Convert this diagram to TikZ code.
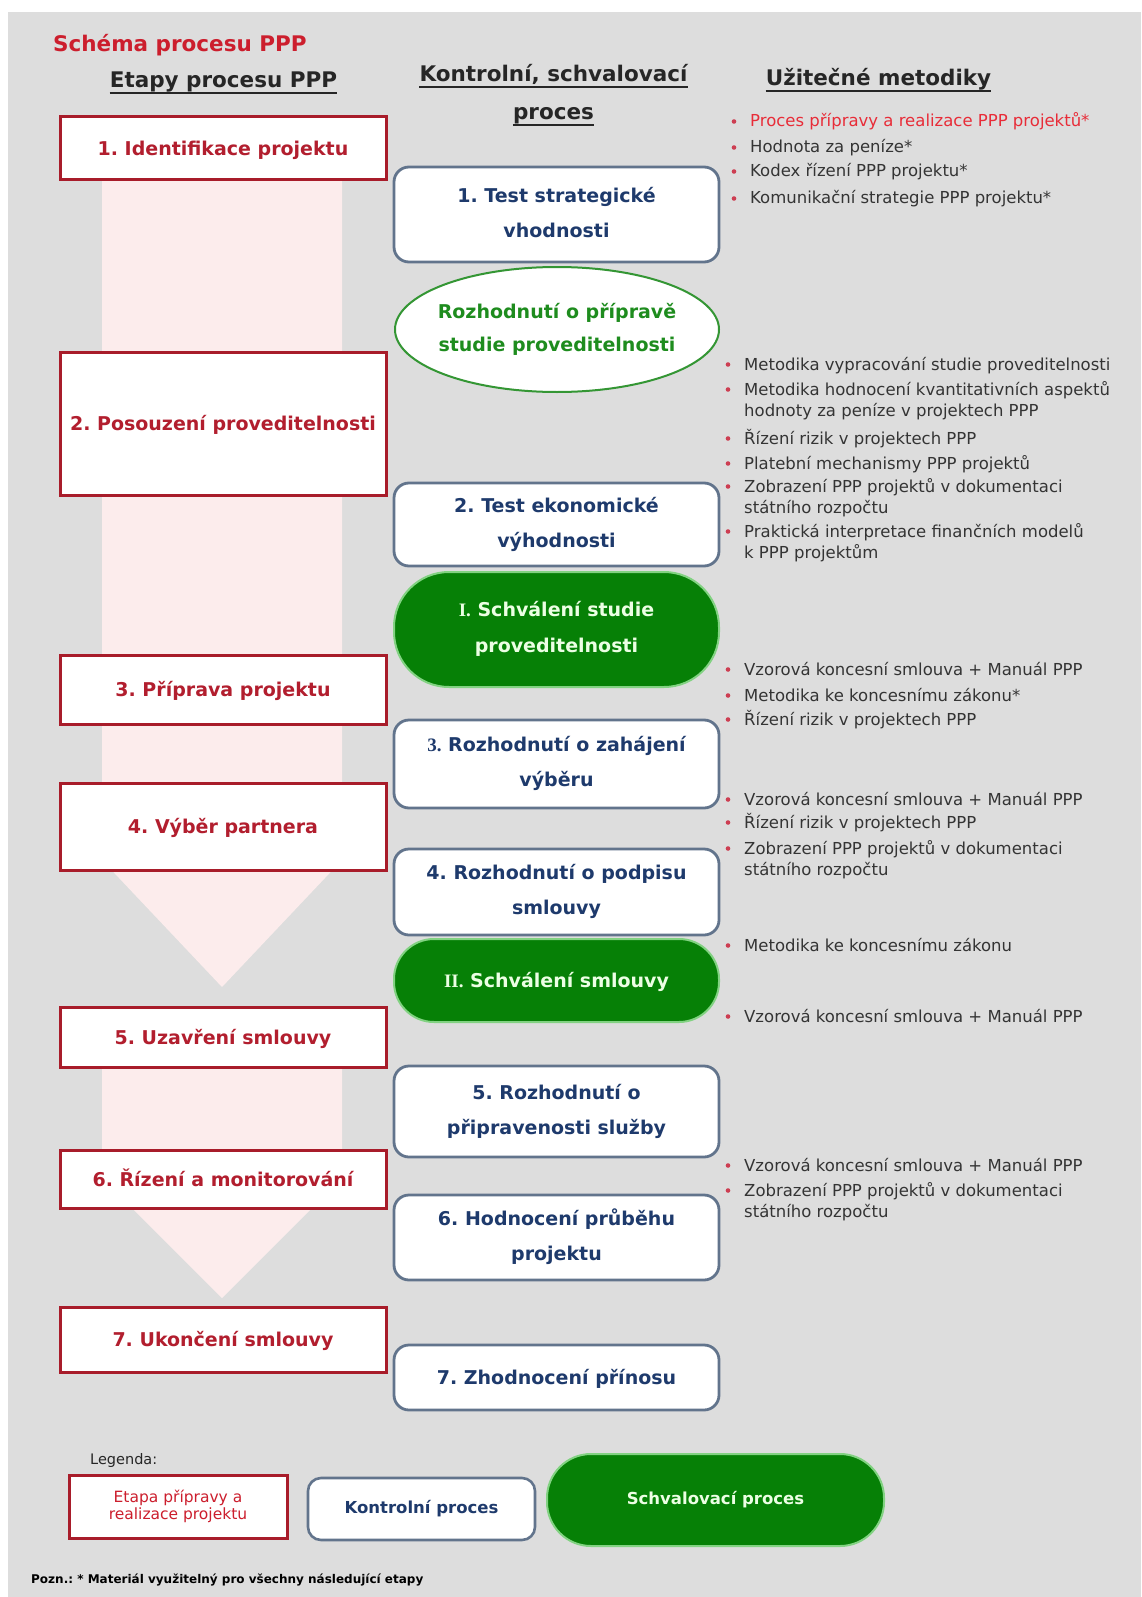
\documentclass[tikz,border=0pt]{standalone}
\usepackage{fontspec}
\setmainfont{DejaVu Sans}
\newfontfamily\romanfont{Liberation Serif}
\usetikzlibrary{shapes.geometric}
\frenchspacing

\definecolor{pageGray}{RGB}{221,221,221}
\definecolor{flowPink}{RGB}{252,236,236}
\definecolor{stageEdge}{RGB}{168,28,42}
\definecolor{stageText}{RGB}{178,30,46}
\definecolor{titleRed}{RGB}{204,30,45}
\definecolor{hdrText}{RGB}{38,38,38}
\definecolor{ctrlEdge}{RGB}{98,116,140}
\definecolor{ctrlText}{RGB}{30,58,108}
\definecolor{apprFill}{RGB}{6,128,6}
\definecolor{apprEdge}{RGB}{130,210,130}
\definecolor{apprText}{RGB}{236,255,228}
\definecolor{decEdge}{RGB}{52,150,52}
\definecolor{decText}{RGB}{30,140,30}
\definecolor{listText}{RGB}{52,52,52}
\definecolor{listRed}{RGB}{232,44,56}
\definecolor{bulletRed}{RGB}{205,62,82}

% fixed line height/depth so every box text sits on its centre
\newcommand\boxstrut{\rule[-5pt]{0pt}{24pt}}
% two-line bullet text, baseline on the first line
\newcommand\twoline[2]{\begin{tabular}[t]{@{}l@{}}#1\\#2\end{tabular}}
% bullet dot plus item text
\newcommand\bitem[4]{%
  \node[dot] (#1d) at (#2-16,#3-5.5) {};
  \node[item] (#1) at (#2,#3) {#4};}

\begin{document}
\begin{tikzpicture}[x=1pt,y=-1pt,
  stagebox/.style={draw=stageEdge, line width=3pt, fill=white, inner sep=0pt,
    minimum width=326pt, text=stageText, font=\fontsize{19}{23}\selectfont\bfseries,
    execute at begin node=\boxstrut, execute at end node=\boxstrut},
  ctrlbox/.style={draw=ctrlEdge, line width=2.8pt, rounded corners=15pt, fill=white,
    inner sep=0pt, minimum width=325pt, text=ctrlText, align=center,
    font=\fontsize{19}{35}\selectfont\bfseries,
    execute at begin node=\boxstrut, execute at end node=\boxstrut},
  apprpill/.style={draw=apprEdge, line width=2pt, fill=apprFill, inner sep=0pt,
    minimum width=325pt, text=apprText, align=center,
    font=\fontsize{19}{36}\selectfont\bfseries,
    execute at begin node=\boxstrut, execute at end node=\boxstrut},
  decoval/.style={ellipse, draw=decEdge, line width=2pt, fill=white, inner sep=0pt,
    minimum width=324pt, minimum height=125pt, text=decText, align=center,
    font=\fontsize{19}{33}\selectfont\bfseries,
    execute at begin node=\boxstrut, execute at end node=\boxstrut},
  hdr/.style={inner sep=0pt, text=hdrText, font=\fontsize{21.5}{26}\selectfont\bfseries},
  uline/.style={draw=hdrText, line width=2pt},
  item/.style={anchor=base west, inner sep=0pt, text=listText,
    font=\fontsize{16.5}{21}\selectfont},
  dot/.style={circle, fill=bulletRed, inner sep=0pt, minimum size=4.6pt},
]
\useasboundingbox (0,0) rectangle (1141,1597);
\fill[white] (0,0) rectangle (1141,1597);
\fill[pageGray] (8,12) rectangle (1141,1597);

% flow arrows behind the stages
\fill[flowPink] (102,150) -- (342,150) -- (342,860) -- (222,987) -- (102,860) -- cycle;
\fill[flowPink] (102,1040) -- (342,1040) -- (342,1178) -- (222,1298) -- (102,1178) -- cycle;

% headings
\node[hdr, text=titleRed, anchor=base west] (title) at (53,52) {Schéma procesu PPP};
\node[hdr, anchor=base] (hstages) at (223.5,88) {Etapy procesu PPP};
\node[hdr, anchor=base] (hctrlA) at (553.5,82) {Kontrolní, schvalovací};
\node[hdr, anchor=base] (hctrlB) at (553.5,120) {proces};
\node[hdr, anchor=base] (hmeth) at (878.5,86) {Užitečné metodiky};
\foreach \h in {hstages,hctrlA,hctrlB,hmeth}
  \draw[uline] ([yshift=-5.5pt]\h.base west) -- ([yshift=-5.5pt]\h.base east);

% project stages
\node[stagebox, minimum height=63pt] (s1) at (223,148.5) {1. Identifikace projektu};
\node[stagebox, minimum height=143pt] (s2) at (223,423.5) {2. Posouzení proveditelnosti};
\node[stagebox, minimum height=69pt] (s3) at (223,689.5) {3. Příprava projektu};
\node[stagebox, minimum height=87pt] (s4) at (223,826.5) {4. Výběr partnera};
\node[stagebox, minimum height=60pt] (s5) at (223,1037) {5. Uzavření smlouvy};
\node[stagebox, minimum height=58pt] (s6) at (223,1179) {6. Řízení a monitorování};
\node[stagebox, minimum height=65pt] (s7) at (223,1339.5) {7. Ukončení smlouvy};

% control and approval steps
\node[ctrlbox, minimum height=95pt] (c1) at (556.5,214.5) {1. Test strategické\\vhodnosti};
\node[decoval] (dec) at (557,329.5)
  {\makebox[0pt]{Rozhodnutí o přípravě}\\\makebox[0pt]{studie proveditelnosti}};
\node[ctrlbox, minimum height=83pt] (c2) at (556.5,524.5) {2. Test ekonomické\\výhodnosti};
\node[apprpill, minimum height=115pt, rounded corners=55pt] (ok1) at (556.5,629.5)
  {{\romanfont I.} Schválení studie\\proveditelnosti};
\node[ctrlbox, minimum height=88pt] (c3) at (556.5,764)
  {{\romanfont 3.} Rozhodnutí o zahájení\\výběru};
\node[ctrlbox, minimum height=86pt] (c4) at (556.5,892) {4. Rozhodnutí o podpisu\\smlouvy};
\node[apprpill, minimum height=83pt, rounded corners=40pt] (ok2) at (556.5,980.5)
  {{\romanfont II.} Schválení smlouvy};
\node[ctrlbox, minimum height=91pt] (c5) at (556.5,1111.5) {5. Rozhodnutí o\\připravenosti služby};
\node[ctrlbox, minimum height=85pt] (c6) at (556.5,1237.5) {6. Hodnocení průběhu\\projektu};
\node[ctrlbox, minimum height=65pt] (c7) at (556.5,1377.5) {7. Zhodnocení přínosu};

% useful methodologies
\bitem{ma1}{750}{127}{\textcolor{listRed}{Proces přípravy a realizace PPP projektů*}}
\bitem{ma2}{750}{153}{Hodnota za peníze*}
\bitem{ma3}{750}{177}{Kodex řízení PPP projektu*}
\bitem{ma4}{750}{204}{Komunikační strategie PPP projektu*}

\bitem{mb1}{744}{370}{Metodika vypracování studie proveditelnosti}
\bitem{mb2}{744}{395}{\twoline{Metodika hodnocení kvantitativních aspektů}{hodnoty za peníze v projektech PPP}}
\bitem{mb3}{744}{444}{Řízení rizik v projektech PPP}
\bitem{mb4}{744}{469}{Platební mechanismy PPP projektů}
\bitem{mb5}{744}{492}{\twoline{Zobrazení PPP projektů v dokumentaci}{státního rozpočtu}}
\bitem{mb6}{744}{537}{\twoline{Praktická interpretace finančních modelů}{k PPP projektům}}

\bitem{mc1}{744}{675}{Vzorová koncesní smlouva + Manuál PPP}
\bitem{mc2}{744}{701}{Metodika ke koncesnímu zákonu*}
\bitem{mc3}{744}{725}{Řízení rizik v projektech PPP}

\bitem{md1}{744}{805}{Vzorová koncesní smlouva + Manuál PPP}
\bitem{md2}{744}{828}{Řízení rizik v projektech PPP}
\bitem{md3}{744}{854}{\twoline{Zobrazení PPP projektů v dokumentaci}{státního rozpočtu}}

\bitem{me1}{744}{951}{Metodika ke koncesnímu zákonu}
\bitem{mf1}{744}{1022}{Vzorová koncesní smlouva + Manuál PPP}

\bitem{mg1}{744}{1171}{Vzorová koncesní smlouva + Manuál PPP}
\bitem{mg2}{744}{1196}{\twoline{Zobrazení PPP projektů v dokumentaci}{státního rozpočtu}}

% legend
\node[inner sep=0pt, anchor=west, text=hdrText, font=\fontsize{14.5}{17}\selectfont]
  (legtitle) at (90,1460) {Legenda:};
\node[draw=stageEdge, line width=3pt, fill=white, inner sep=0pt, minimum width=218pt,
  minimum height=63pt, align=center, text=titleRed, font=\fontsize{15.5}{17}\selectfont]
  (legstage) at (178,1506.5) {Etapa přípravy a\\realizace projektu};
\node[draw=ctrlEdge, line width=2.6pt, rounded corners=13pt, fill=white, inner sep=0pt,
  minimum width=227pt, minimum height=62pt, text=ctrlText,
  font=\fontsize{16.5}{20}\selectfont\bfseries]
  (legctrl) at (421.5,1509) {Kontrolní proces};
\node[draw=apprEdge, line width=2pt, fill=apprFill, rounded corners=44pt, inner sep=0pt,
  minimum width=337pt, minimum height=92pt, text=apprText,
  font=\fontsize{16.5}{20}\selectfont\bfseries]
  (legappr) at (715.5,1500) {Schvalovací proces};
\node[inner sep=0pt, anchor=west, text=black, font=\fontsize{12}{14}\selectfont\bfseries]
  (note) at (31,1580) {Pozn.: * Materiál využitelný pro všechny následující etapy};
\end{tikzpicture}
\end{document}
